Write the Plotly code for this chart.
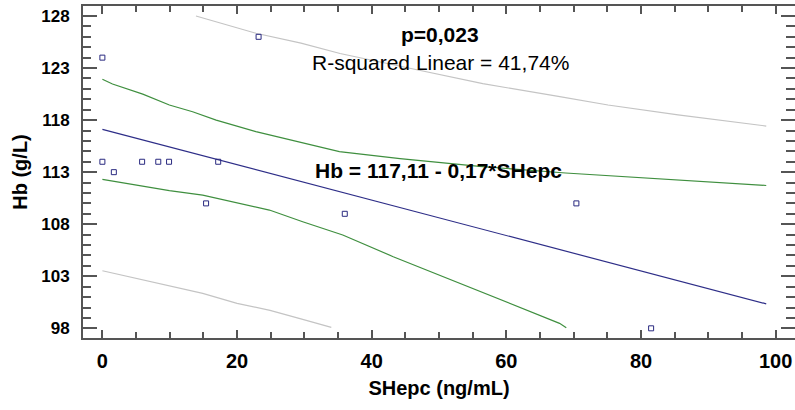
import plotly.graph_objects as go

# Observed data points
shepc = [0.0, 0.0, 1.7, 5.9, 8.3, 9.9, 17.2, 23.2, 15.4, 36.0, 70.4, 81.5]
hb = [124, 114, 113, 114, 114, 114, 114, 126, 110, 109, 110, 98]

# Regression line
fit_x = [0.0, 98.6]
fit_y = [117.11, 100.35]

# Confidence band (green)
ci_up_x = [0.0, 1.5, 6.0, 9.95, 13.4, 16.9, 22.8, 29.5, 35.2, 44.2, 56.0, 68.8, 86.0, 98.6]
ci_up_y = [121.92, 121.47, 120.5, 119.45, 118.8, 118.0, 116.9, 115.88, 114.97, 114.3, 113.55, 112.92, 112.25, 111.72]
ci_lo_x = [0.0, 5.0, 9.95, 14.9, 19.85, 24.8, 29.75, 35.7, 43.2, 50.6, 58.0, 67.9, 68.9]
ci_lo_y = [112.31, 111.77, 111.22, 110.8, 110.07, 109.36, 108.24, 106.96, 104.88, 102.96, 101.04, 98.48, 98.06]

# Prediction band (gray)
pi_up_x = [13.9, 22.8, 29.5, 35.3, 45.65, 56.5, 67.5, 75.1, 85.5, 98.6]
pi_up_y = [128.0, 126.34, 125.4, 124.4, 122.98, 121.5, 120.3, 119.45, 118.5, 117.43]
pi_lo_x = [0.0, 5.05, 9.95, 14.9, 20.0, 24.9, 29.75, 34.0]
pi_lo_y = [103.53, 102.8, 102.06, 101.36, 100.4, 99.72, 98.86, 98.09]

FONT = "Liberation Sans, Arial, sans-serif"
AX = "#555555"

fig = go.Figure()
fig.add_trace(go.Scatter(x=pi_up_x, y=pi_up_y, mode="lines", line=dict(color="#c4c4c4", width=1.2), showlegend=False))
fig.add_trace(go.Scatter(x=pi_lo_x, y=pi_lo_y, mode="lines", line=dict(color="#c4c4c4", width=1.2), showlegend=False))
fig.add_trace(go.Scatter(x=ci_up_x, y=ci_up_y, mode="lines", line=dict(color="#3f8f3f", width=1.2), showlegend=False))
fig.add_trace(go.Scatter(x=ci_lo_x, y=ci_lo_y, mode="lines", line=dict(color="#3f8f3f", width=1.2), showlegend=False))
fig.add_trace(go.Scatter(x=fit_x, y=fit_y, mode="lines", line=dict(color="#2e2e88", width=1.2), showlegend=False))
fig.add_trace(go.Scatter(x=shepc, y=hb, mode="markers",
                         marker=dict(symbol="square-open", size=5, color="#2a2a80", line=dict(width=1)),
                         showlegend=False))
fig.add_trace(go.Scatter(x=[None], y=[None], yaxis="y2", showlegend=False, hoverinfo="skip"))

fig.update_layout(
    width=795, height=410,
    margin=dict(l=83, r=0, t=6, b=72),
    paper_bgcolor="white", plot_bgcolor="white",
    font=dict(family=FONT, color="#000000"),
    xaxis=dict(
        range=[-2.88, 102.87], tick0=0, dtick=20, automargin=False,
        showline=True, linecolor=AX, linewidth=2, mirror="ticks",
        ticks="inside", ticklen=8, tickwidth=1.5, tickcolor=AX,
        minor=dict(dtick=5, ticks="inside", ticklen=6, tickcolor=AX, tickwidth=1.5),
        showgrid=False, zeroline=False, ticklabelstandoff=4,
        tickfont=dict(family=FONT, size=20, color="#000", weight="bold"),
        title=dict(text="<b>SHepc (ng/mL)</b>", font=dict(family=FONT, size=20, color="#000"), standoff=10),
    ),
    yaxis=dict(
        range=[97.07, 128.96], tick0=98, dtick=5, automargin=False,
        showline=True, linecolor=AX, linewidth=2,
        ticks="inside", ticklen=14, tickwidth=1.5, tickcolor=AX,
        minor=dict(dtick=1, ticks="inside", ticklen=8, tickcolor=AX, tickwidth=1.5),
        showgrid=False, zeroline=False, ticklabelstandoff=8,
        tickfont=dict(family=FONT, size=17, color="#000", weight="bold"),
        title=dict(text="<b>Hb (g/L)</b>", font=dict(family=FONT, size=20, color="#000"), standoff=8),
    ),
    yaxis2=dict(
        range=[97.07, 128.96], tick0=98, dtick=5, overlaying="y", side="right", automargin=False,
        showline=False, showticklabels=False,
        ticks="inside", ticklen=14, tickwidth=1.5, tickcolor=AX,
        minor=dict(dtick=1, ticks="inside", ticklen=9, tickcolor=AX, tickwidth=1.5),
        showgrid=False, zeroline=False,
    ),
    annotations=[
        dict(x=50.1, y=126.2, xref="x", yref="y", text="<b>p=0,023</b>", showarrow=False,
             font=dict(family=FONT, size=21, color="#000")),
        dict(x=50.2, y=123.5, xref="x", yref="y", text="R-squared Linear = 41,74%", showarrow=False,
             font=dict(family=FONT, size=21, color="#000")),
        dict(x=49.95, y=113.2, xref="x", yref="y", text="<b>Hb = 117,11 - 0,17*SHepc</b>", showarrow=False,
             font=dict(family=FONT, size=21, color="#000")),
    ],
)

fig.write_html("out.html", config={"displayModeBar": False},
               post_script="document.body.style.margin='0';")
